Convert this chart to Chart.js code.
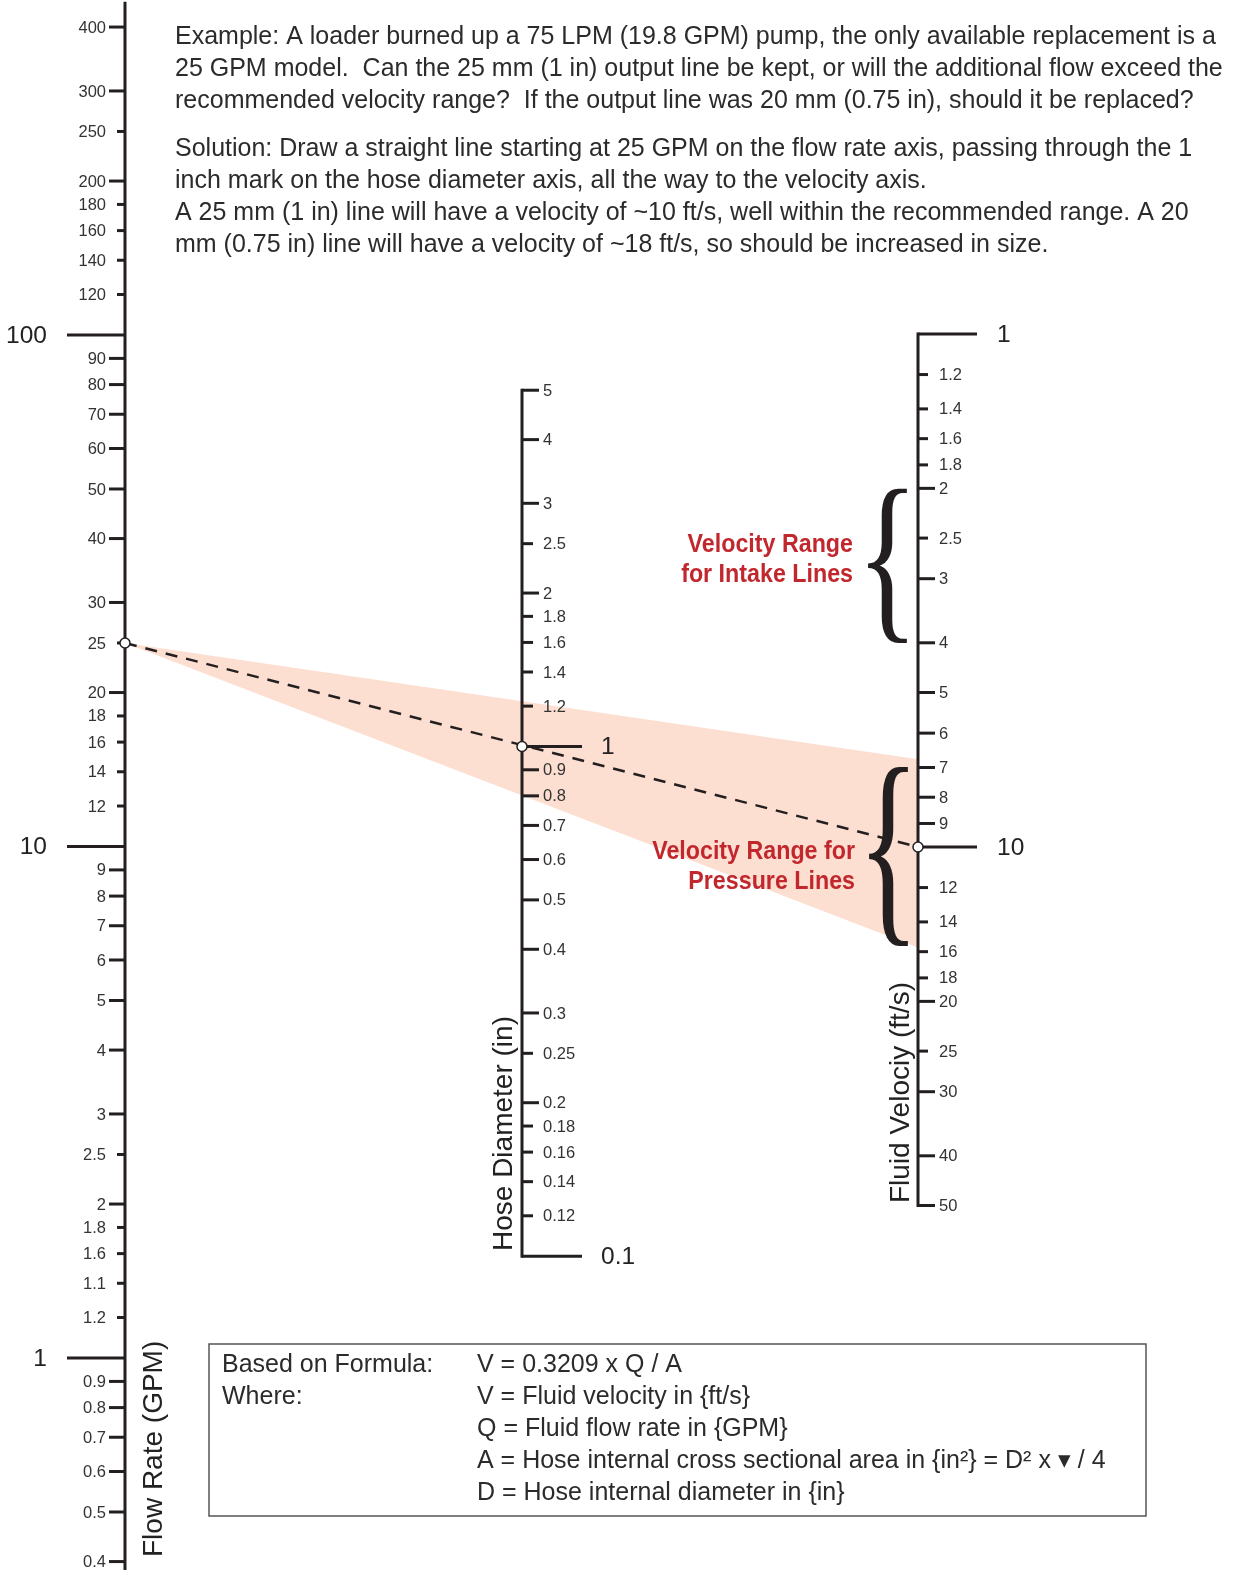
<!DOCTYPE html>
<html><head><meta charset="utf-8">
<script src="https://cdn.jsdelivr.net/npm/chart.js@4/dist/chart.umd.min.js"></script>
<style>html,body{margin:0;padding:0;background:#fff}canvas{display:block}</style>
</head><body>
<canvas id="c" width="1236" height="1570" style="width:1236px;height:1570px"></canvas>
<script>
// ---------------- data ----------------
const flowTicks  = [400,300,250,200,180,160,140,120,100,90,80,70,60,50,40,30,25,20,18,16,14,12,10,9,8,7,6,5,4,3,2.5,2,1.8,1.6,1.4,1.2,1,0.9,0.8,0.7,0.6,0.5,0.4];
const flowLabels = ['400','300','250','200','180','160','140','120','100','90','80','70','60','50','40','30','25','20','18','16','14','12','10','9','8','7','6','5','4','3','2.5','2','1.8','1.6','1.1','1.2','1','0.9','0.8','0.7','0.6','0.5','0.4'];
const flowMinor  = [250,180,160,140,120,25,18,16,14,12,2.5,1.8,1.6,1.4,1.2];
const flowMajor  = [100,10,1];

const diaTicks  = [5,4,3,2.5,2,1.8,1.6,1.4,1.2,1,0.9,0.8,0.7,0.6,0.5,0.4,0.3,0.25,0.2,0.18,0.16,0.14,0.12,0.1];
const diaLabels = ['5','4','3','2.5','2','1.8','1.6','1.4','1.2','1','0.9','0.8','0.7','0.6','0.5','0.4','0.3','0.25','0.2','0.18','0.16','0.14','0.12','0.1'];
const diaMinor  = [2.5,1.8,1.6,1.4,1.2,0.25,0.18,0.16,0.14,0.12];
const diaMajor  = [1,0.1];

const velTicks  = [1,1.2,1.4,1.6,1.8,2,2.5,3,4,5,6,7,8,9,10,12,14,16,18,20,25,30,40,50];
const velLabels = ['1','1.2','1.4','1.6','1.8','2','2.5','3','4','5','6','7','8','9','10','12','14','16','18','20','25','30','40','50'];
const velMinor  = [1.2,1.4,1.6,1.8,2.5,12,14,16,18,25];
const velMajor  = [1,10];

const exampleFlow = 25;      // GPM
const exampleDia  = 1;       // in
const exampleVel  = 10;      // ft/s
const shadeVel    = [6.75, 15.7];
const intakeRange   = [2, 4];
const pressureRange = [7, 15.6];

const flowExtent = [0.38, 445];
const diaExtent  = [0.1, 5];
const velExtent  = [1, 50];

const introLines = [
  'Example: A loader burned up a 75 LPM (19.8 GPM) pump, the only available replacement is a',
  '25 GPM model.  Can the 25 mm (1 in) output line be kept, or will the additional flow exceed the',
  'recommended velocity range?  If the output line was 20 mm (0.75 in), should it be replaced?'
];
const solutionLines = [
  'Solution: Draw a straight line starting at 25 GPM on the flow rate axis, passing through the 1',
  'inch mark on the hose diameter axis, all the way to the velocity axis.',
  'A 25 mm (1 in) line will have a velocity of ~10 ft/s, well within the recommended range. A 20',
  'mm (0.75 in) line will have a velocity of ~18 ft/s, so should be increased in size.'
];
const formulaLeft  = ['Based on Formula:', 'Where:'];
const formulaRight = [
  'V = 0.3209 x Q / A',
  'V = Fluid velocity in {ft/s}',
  'Q = Fluid flow rate in {GPM}',
  'A = Hose internal cross sectional area in {in\u00B2} = D\u00B2 x \u25BE / 4',
  'D = Hose internal diameter in {in}'
];

// ---------------- layout ----------------
const AX = { flow: 125, dia: 522, vel: 918 };
const INK = '#231f20';
const TXT = '#2b2b2b';
const RED = '#c1272d';
const SANS = '"Liberation Sans", Arial, sans-serif';

function drawAxis(chart, id, axX, extent, minor, major, side, c) {
  const ctx = chart.ctx, s = chart.scales[id];
  const x = chart.scales.x.getPixelForValue(axX);
  ctx.save();
  ctx.strokeStyle = INK; ctx.lineWidth = 3; ctx.lineCap = 'butt';
  let y0 = s.getPixelForValue(extent[0]), y1 = s.getPixelForValue(extent[1]);
  const top = Math.min(y0, y1) - 1.5, bot = Math.max(y0, y1) + 1.5;
  ctx.beginPath(); ctx.moveTo(x, top); ctx.lineTo(x, bot); ctx.stroke();
  s.ticks.forEach(t => {
    const y = s.getPixelForValue(t.value);
    const isMaj = major.includes(t.value), isMin = minor.includes(t.value);
    const len = isMaj ? c.maj : (isMin ? c.short : c.long);
    ctx.beginPath(); ctx.moveTo(x, y); ctx.lineTo(x + side * len, y); ctx.stroke();
    ctx.font = (isMaj ? '24.5px ' : '16.5px ') + SANS;
    ctx.fillStyle = isMaj ? '#222' : '#333';
    ctx.textAlign = side < 0 ? 'right' : 'left';
    ctx.textBaseline = 'middle';
    ctx.fillText(t.label, x + side * (isMaj ? c.majGap : c.gap), y + 1);
  });
  ctx.restore();
}

function drawAxes(chart) {
  drawAxis(chart, 'yFlow', AX.flow, flowExtent, flowMinor, flowMajor, -1, {long:16, short:8, maj:58, gap:19, majGap:78});
  drawAxis(chart, 'yDia',  AX.dia,  diaExtent,  diaMinor,  diaMajor,  1,  {long:17, short:11, maj:60, gap:21, majGap:79});
  drawAxis(chart, 'yVel',  AX.vel,  velExtent,  velMinor,  velMajor,  1,  {long:17, short:10, maj:59, gap:21, majGap:79});
}

function drawBrace(ctx, x0, x1, y0, y1) {
  ctx.save();
  ctx.font = '200px "Liberation Serif", "DejaVu Serif", serif';
  const m = ctx.measureText('{');
  const gw = m.actualBoundingBoxLeft + m.actualBoundingBoxRight;
  const gh = m.actualBoundingBoxAscent + m.actualBoundingBoxDescent;
  ctx.translate(x0, y0);
  ctx.scale((x1 - x0) / gw, (y1 - y0) / gh);
  ctx.fillStyle = INK;
  ctx.textAlign = 'left'; ctx.textBaseline = 'alphabetic';
  ctx.fillText('{', m.actualBoundingBoxLeft, m.actualBoundingBoxAscent);
  ctx.restore();
}

function redText(ctx, str, xRight, y) {
  ctx.save();
  ctx.font = 'bold 25px ' + SANS;
  ctx.fillStyle = RED;
  ctx.textAlign = 'right'; ctx.textBaseline = 'middle';
  ctx.translate(xRight, y);
  ctx.scale(0.93, 1);
  ctx.fillText(str, 0, 0);
  ctx.restore();
}

function vTitle(ctx, str, xBase, yStart) {
  ctx.save();
  ctx.translate(xBase, yStart);
  ctx.rotate(-Math.PI / 2);
  ctx.font = '28px ' + SANS;
  ctx.fillStyle = '#222';
  ctx.textAlign = 'left'; ctx.textBaseline = 'alphabetic';
  ctx.fillText(str, 0, 0);
  ctx.restore();
}

function drawText(chart) {
  const ctx = chart.ctx;
  const sv = chart.scales.yVel;
  ctx.save();
  ctx.font = '25px ' + SANS;
  ctx.fillStyle = TXT; ctx.textAlign = 'left'; ctx.textBaseline = 'middle';
  introLines.forEach((l, i) => ctx.fillText(l, 175, 37 + i * 32));
  solutionLines.forEach((l, i) => ctx.fillText(l, 175, 149 + i * 32));
  ctx.strokeStyle = '#555'; ctx.lineWidth = 1.5;
  ctx.strokeRect(209, 1344, 937, 172);
  formulaLeft.forEach((l, i) => ctx.fillText(l, 222, 1365 + i * 32));
  formulaRight.forEach((l, i) => ctx.fillText(l, 477, 1365 + i * 32));
  ctx.restore();

  drawBrace(ctx, 868, 907, sv.getPixelForValue(intakeRange[0]), sv.getPixelForValue(intakeRange[1]));
  drawBrace(ctx, 869, 908, sv.getPixelForValue(pressureRange[0]), sv.getPixelForValue(pressureRange[1]));

  redText(ctx, 'Velocity Range', 853, 545);
  redText(ctx, 'for Intake Lines', 853, 575);
  redText(ctx, 'Velocity Range for', 855, 852);
  redText(ctx, 'Pressure Lines', 855, 882);

  vTitle(ctx, 'Flow Rate (GPM)', 162, 1557);
  vTitle(ctx, 'Hose Diameter (in)', 512, 1251);
  vTitle(ctx, 'Fluid Velociy (ft/s)', 909, 1203);
}

const nomogram = {
  id: 'nomogram',
  afterDatasetDraw(chart, args) { if (args.index === 0) drawAxes(chart); },
  afterDraw(chart) { drawText(chart); }
};

function logAxis(min, max, ticks, labels, reverse) {
  return {
    type: 'logarithmic', axis: 'y', display: false, min, max, reverse: !!reverse, bounds: 'data',
    afterBuildTicks: s => { s.ticks = ticks.map(v => ({ value: v })); },
    ticks: { autoSkip: false, callback: (v, i) => labels[i] }
  };
}

const chart = new Chart(document.getElementById('c'), {
  type: 'scatter',
  data: { datasets: [
    { label: 'shade', data: [], showLine: true, fill: 'shape', backgroundColor: '#fddfd1',
      borderWidth: 0, pointRadius: 0, yAxisID: 'yFlow', order: 3, tension: 0 },
    { label: 'example', data: [], showLine: true, borderColor: INK, borderWidth: 2.5,
      borderDash: [12, 9], pointRadius: 0, yAxisID: 'yFlow', order: 2, tension: 0 },
    { label: 'marks', data: [], showLine: false, pointRadius: 5, pointBackgroundColor: '#fff',
      pointBorderColor: INK, pointBorderWidth: 1.5, yAxisID: 'yFlow', order: 1 }
  ]},
  options: {
    responsive: false, devicePixelRatio: 1, animation: false, events: [],
    layout: { padding: 0, autoPadding: false },
    plugins: { legend: { display: false }, tooltip: { enabled: false } },
    scales: {
      x: { type: 'linear', min: 0, max: 1236, display: false },
      yFlow: logAxis(0.3851, 451.8, flowTicks, flowLabels, false),
      yDia:  logAxis(0.02422, 29.15, diaTicks, diaLabels, false),
      yVel:  logAxis(0.2234, 256.7, velTicks, velLabels, true)
    }
  },
  plugins: [nomogram]
});

function asFlow(id, v) {
  return chart.scales.yFlow.getValueForPixel(chart.scales[id].getPixelForValue(v));
}
chart.data.datasets[0].data = [
  { x: AX.flow, y: exampleFlow },
  { x: AX.vel, y: asFlow('yVel', shadeVel[0]) },
  { x: AX.vel, y: asFlow('yVel', shadeVel[1]) }
];
chart.data.datasets[1].data = [
  { x: AX.flow, y: exampleFlow },
  { x: AX.vel, y: asFlow('yVel', exampleVel) }
];
chart.data.datasets[2].data = [
  { x: AX.flow, y: exampleFlow },
  { x: AX.dia, y: asFlow('yDia', exampleDia) },
  { x: AX.vel, y: asFlow('yVel', exampleVel) }
];
chart.update();
</script>
</body></html>
